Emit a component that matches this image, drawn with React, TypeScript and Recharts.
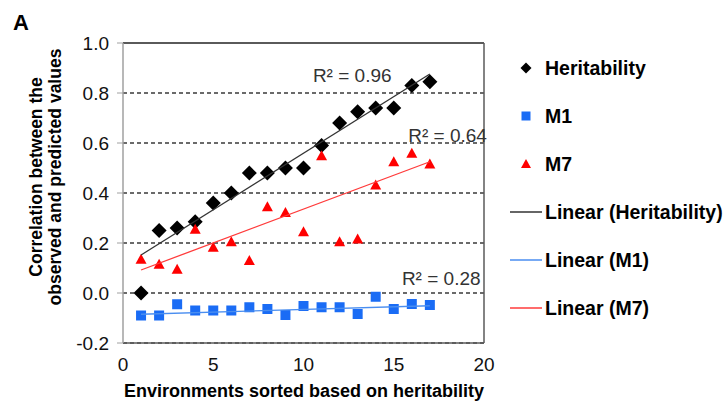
import {
  CartesianGrid,
  Label,
  ReferenceDot,
  ReferenceLine,
  Scatter,
  ScatterChart,
  XAxis,
  YAxis,
} from 'recharts'

const FONT = '"Liberation Sans", Arial, sans-serif'

// values, environment 1..17
const environments = [1, 2, 3, 4, 5, 6, 7, 8, 9, 10, 11, 12, 13, 14, 15, 16, 17]
const heritability = [0.0, 0.25, 0.26, 0.285, 0.36, 0.4, 0.48, 0.48, 0.5, 0.5, 0.59, 0.68, 0.725, 0.74, 0.74, 0.83, 0.845]
const m1 = [-0.09, -0.09, -0.045, -0.07, -0.07, -0.07, -0.057, -0.064, -0.088, -0.052, -0.057, -0.057, -0.084, -0.015, -0.064, -0.044, -0.048]
const m7 = [0.135, 0.115, 0.095, 0.255, 0.183, 0.205, 0.13, 0.345, 0.322, 0.245, 0.549, 0.205, 0.216, 0.432, 0.525, 0.559, 0.516]

// linear trend endpoints (as drawn)
const trendX = [1, 17]
const heritTrend = [0.152, 0.876]
const m1Trend = [-0.085, -0.051]
const m7Trend = [0.092, 0.525]

const r2Labels = [
  { x: 12.7, y: 0.872, text: 'R² = 0.96' },
  { x: 17.98, y: 0.632, text: 'R² = 0.64' },
  { x: 17.63, y: 0.06, text: 'R² = 0.28' },
]

const xTicks = [0, 5, 10, 15, 20]
const yTicks = [-0.2, 0, 0.2, 0.4, 0.6, 0.8, 1.0]

const BLACK = '#000000'
const BLUE = '#1a6cf5'
const RED = '#ff0000'

const toPoints = (xs: number[], ys: number[]) => xs.map((x, i) => ({ x, y: ys[i] }))

const heritData = toPoints(environments, heritability)
const m1Data = toPoints(environments, m1)
const m7Data = toPoints(environments, m7)

type ShapeProps = { cx?: number; cy?: number }

const Diamond = ({ cx = 0, cy = 0 }: ShapeProps) => (
  <polygon points={`${cx},${cy - 7.5} ${cx + 7.5},${cy} ${cx},${cy + 7.5} ${cx - 7.5},${cy}`} fill={BLACK} />
)
const Square = ({ cx = 0, cy = 0 }: ShapeProps) => (
  <rect x={cx - 5} y={cy - 5} width={10} height={10} fill={BLUE} />
)
const Triangle = ({ cx = 0, cy = 0 }: ShapeProps) => (
  <polygon points={`${cx},${cy - 5.5} ${cx + 5.5},${cy + 4.5} ${cx - 5.5},${cy + 4.5}`} fill={RED} />
)
const NoDot = () => <g />

const legendItems = [
  { name: 'Heritability', kind: 'diamond', color: BLACK },
  { name: 'M1', kind: 'square', color: BLUE },
  { name: 'M7', kind: 'triangle', color: RED },
  { name: 'Linear (Heritability)', kind: 'line', color: '#333333' },
  { name: 'Linear (M1)', kind: 'line', color: '#4a8ef0' },
  { name: 'Linear (M7)', kind: 'line', color: '#ff3b3b' },
]

function LegendIcon({ kind, color }: { kind: string; color: string }) {
  return (
    <svg width={36} height={20} style={{ display: 'block' }}>
      {kind === 'diamond' && <polygon points="16,4.5 21.5,10 16,15.5 10.5,10" fill={color} />}
      {kind === 'square' && <rect x={11.5} y={5.5} width={9} height={9} fill={color} />}
      {kind === 'triangle' && <polygon points="16,5 21,14 11,14" fill={color} />}
      {kind === 'line' && <line x1={0} x2={32} y1={10} y2={10} stroke={color} strokeWidth={1.5} />}
    </svg>
  )
}

function YTitle() {
  return (
    <g fontFamily={FONT} fontWeight={700} fontSize={17.5} fill="#000">
      <text x={42} y={177} textAnchor="middle" transform="rotate(-90, 42, 177)">
        Correlation between the
      </text>
      <text x={61} y={177} textAnchor="middle" transform="rotate(-90, 61, 177)">
        observed and predicted values
      </text>
    </g>
  )
}

function XTitle() {
  return (
    <text x={304} y={397} textAnchor="middle" fontFamily={FONT} fontWeight={700} fontSize={18} fill="#000">
      Environments sorted based on heritability
    </text>
  )
}

export default function App() {
  return (
    <div style={{ position: 'absolute', left: 0, top: 0, width: 727, height: 404, background: '#fff', fontFamily: FONT }}>
      <div style={{ position: 'absolute', left: 13, top: 10, fontSize: 22, fontWeight: 700, color: '#000' }}>A</div>
      <ScatterChart width={727} height={404} margin={{ top: 43, right: 243, bottom: 31, left: 63 }}>
        <CartesianGrid vertical={false} stroke="#3a3a3a" strokeDasharray="4 3" strokeWidth={1.3} />
        <XAxis
          type="number"
          dataKey="x"
          domain={[0, 20]}
          ticks={xTicks}
          height={30}
          tickSize={6}
          tickMargin={9}
          tickLine={false}
          axisLine={{ stroke: '#5a5a5a', strokeWidth: 1.5 }}
          tick={{ fill: '#111', fontSize: 19, fontFamily: FONT }}
          allowDataOverflow
        >
          <Label content={<XTitle />} />
        </XAxis>
        <YAxis
          type="number"
          dataKey="y"
          domain={[-0.2, 1.0]}
          ticks={yTicks}
          width={60}
          tickSize={6}
          tickMargin={8}
          tickLine={{ stroke: '#a0a0a0' }}
          axisLine={{ stroke: '#a0a0a0', strokeWidth: 1.5 }}
          tick={{ fill: '#111', fontSize: 19, fontFamily: FONT }}
          tickFormatter={(v: number) => v.toFixed(1)}
          allowDataOverflow
        >
          <Label content={<YTitle />} />
        </YAxis>
        <ReferenceLine y={1.0} stroke="#5a5a5a" strokeWidth={2} />
        <ReferenceLine x={20} stroke="#5a5a5a" strokeWidth={1.5} />
        <Scatter name="Heritability" data={heritData} shape={Diamond} isAnimationActive={false} />
        <Scatter name="M1" data={m1Data} shape={Square} isAnimationActive={false} />
        <Scatter name="M7" data={m7Data} shape={Triangle} isAnimationActive={false} />
        <Scatter
          name="Linear (Heritability)"
          data={toPoints(trendX, heritTrend)}
          line={{ stroke: '#333333', strokeWidth: 1.3 }}
          shape={NoDot}
          isAnimationActive={false}
        />
        <Scatter
          name="Linear (M1)"
          data={toPoints(trendX, m1Trend)}
          line={{ stroke: '#4a8ef0', strokeWidth: 1.3 }}
          shape={NoDot}
          isAnimationActive={false}
        />
        <Scatter
          name="Linear (M7)"
          data={toPoints(trendX, m7Trend)}
          line={{ stroke: '#ff3b3b', strokeWidth: 1.3 }}
          shape={NoDot}
          isAnimationActive={false}
        />
        {r2Labels.map((l) => (
          <ReferenceDot
            key={l.text}
            x={l.x}
            y={l.y}
            r={0}
            fill="none"
            stroke="none"
            label={{ value: l.text, position: 'center', fill: '#333', fontSize: 19, fontFamily: FONT }}
          />
        ))}
      </ScatterChart>
      <div style={{ position: 'absolute', left: 510, top: 0 }}>
        {legendItems.map((item, i) => (
          <div
            key={item.name}
            style={{
              position: 'absolute',
              left: 0,
              top: 68 + i * 48 - 10,
              display: 'flex',
              alignItems: 'center',
              height: 20,
              whiteSpace: 'nowrap',
            }}
          >
            <LegendIcon kind={item.kind} color={item.color} />
            <span style={{ fontSize: 19.5, fontWeight: 700, color: '#000', marginLeft: -1, lineHeight: '20px' }}>
              {item.name}
            </span>
          </div>
        ))}
      </div>
    </div>
  )
}
